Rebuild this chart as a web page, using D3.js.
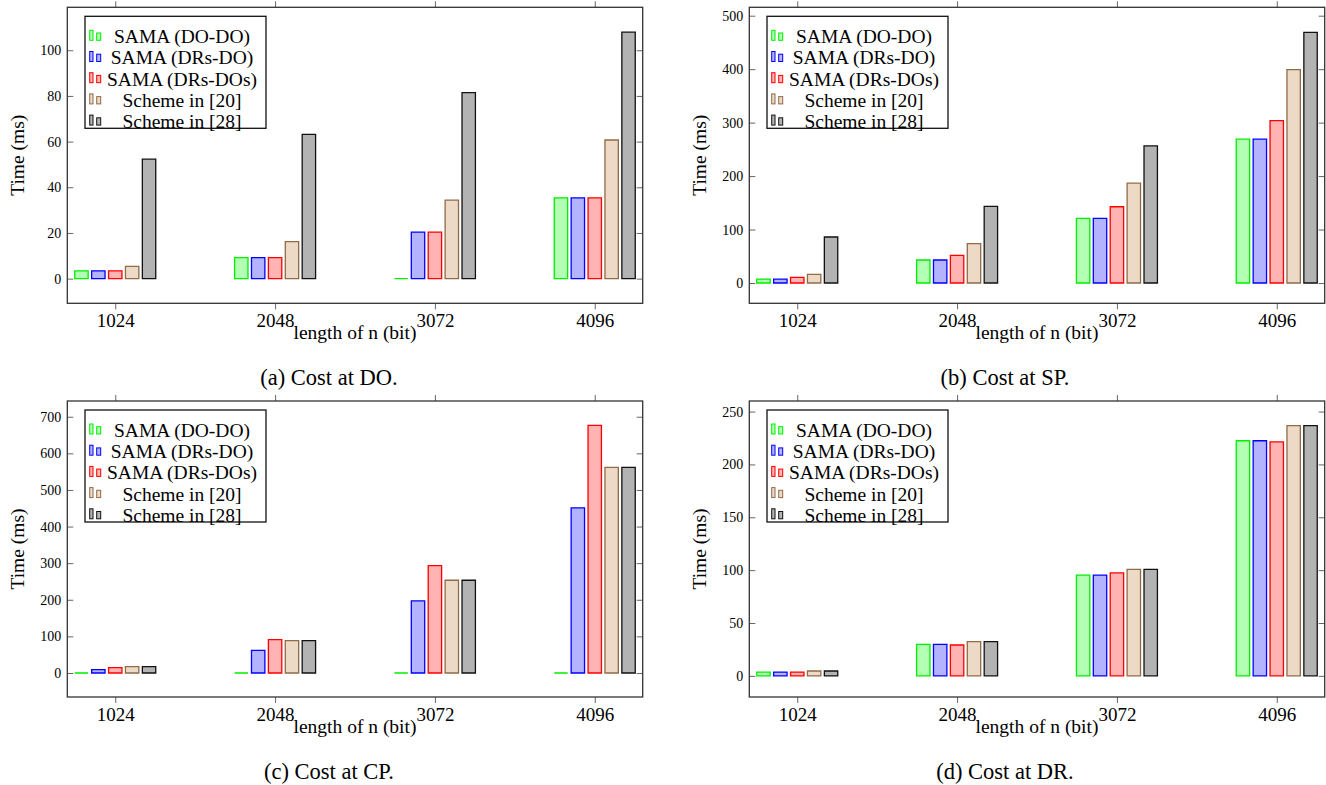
<!DOCTYPE html>
<html>
<head>
<meta charset="utf-8">
<script src="https://cdn.jsdelivr.net/npm/d3@7"></script>
<style>
  html, body { margin: 0; padding: 0; background: #fff; }
  svg { display: block; }
  text { font-family: "Liberation Serif", "Times New Roman", serif; fill: #000; }
</style>
</head>
<body>
<svg id="fig" width="1326" height="785"></svg>
<script>
// Key lengths on the x axis and the five compared schemes
const categories = ["1024", "2048", "3072", "4096"];
const seriesNames = ["SAMA (DO-DO)", "SAMA (DRs-DO)", "SAMA (DRs-DOs)", "Scheme in [20]", "Scheme in [28]"];

// (a) Cost at DO, ms
const doSamaDoDo   = [3.4, 9.2, 0, 35.4];
const doSamaDrsDo  = [3.4, 9.2, 20.4, 35.4];
const doSamaDrsDos = [3.4, 9.2, 20.4, 35.4];
const doScheme20   = [5.4, 16.2, 34.4, 60.7];
const doScheme28   = [52.3, 63.2, 81.4, 107.9];

// (b) Cost at SP, ms
const spSamaDoDo   = [7.2, 43, 120.8, 269];
const spSamaDrsDo  = [7.2, 43, 120.8, 269];
const spSamaDrsDos = [10.5, 51.7, 142.6, 303.9];
const spScheme20   = [16, 73.5, 186.8, 399];
const spScheme28   = [86, 143.2, 256.5, 468.9];

// (c) Cost at CP, ms
const cpSamaDoDo   = [0, 0, 0, 0];
const cpSamaDrsDo  = [9.1, 62, 196.9, 451.2];
const cpSamaDrsDos = [14.6, 91.2, 293.5, 676.4];
const cpScheme20   = [17.3, 88.4, 253.4, 561.5];
const cpScheme28   = [17.3, 88.4, 253.4, 561.5];

// (d) Cost at DR, ms
const drSamaDoDo   = [3.6, 29.8, 95.2, 222.4];
const drSamaDrsDo  = [3.6, 29.8, 95.2, 222.4];
const drSamaDrsDos = [3.6, 29.2, 97.4, 221.4];
const drScheme20   = [4.6, 32.3, 100.8, 236.8];
const drScheme28   = [4.6, 32.3, 100.8, 236.8];

// y tick values per panel
const ticksDO = [0, 20, 40, 60, 80, 100];
const ticksSP = [0, 100, 200, 300, 400, 500];
const ticksCP = [0, 100, 200, 300, 400, 500, 600, 700];
const ticksDR = [0, 50, 100, 150, 200, 250];

// fill / stroke per series
const fills   = ["#b3ffb3", "#b3b3ff", "#ffb3b3", "#ecdac6", "#b3b3b3"];
const strokes = ["#00ee00", "#0000ff", "#ff0000", "#8f6b48", "#111111"];

const panels = [
  { caption: "(a) Cost at DO.", series: [doSamaDoDo, doSamaDrsDo, doSamaDrsDos, doScheme20, doScheme28],
    ticks: ticksDO, domain: [-10.8, 118.8], col: 0, row: 0 },
  { caption: "(b) Cost at SP.", series: [spSamaDoDo, spSamaDrsDo, spSamaDrsDos, spScheme20, spScheme28],
    ticks: ticksSP, domain: [-38, 515.7], col: 1, row: 0 },
  { caption: "(c) Cost at CP.", series: [cpSamaDoDo, cpSamaDrsDo, cpSamaDrsDos, cpScheme20, cpScheme28],
    ticks: ticksCP, domain: [-65.6, 743], col: 0, row: 1 },
  { caption: "(d) Cost at DR.", series: [drSamaDoDo, drSamaDrsDo, drSamaDrsDos, drScheme20, drScheme28],
    ticks: ticksDR, domain: [-20, 260], col: 1, row: 1 }
];

const svg = d3.select("#fig");
const colX = [67.3, 749.3];
const rowY = [7.3, 401];
const plotW = 575.4, plotH = 296;
const barStep = 16.9, barW = 13.4;

// closed bar outline as a path so that zero-height bars still show as a line
function barPath(x, yTop, w, yBase) {
  const p = d3.path();
  p.moveTo(x, yBase);
  p.lineTo(x, yTop);
  p.lineTo(x + w, yTop);
  p.lineTo(x + w, yBase);
  p.closePath();
  return p.toString();
}

panels.forEach(p => {
  const x0 = colX[p.col], y0 = rowY[p.row];
  const g = svg.append("g").attr("transform", `translate(${x0},${y0})`);

  const x = d3.scalePoint().domain(categories).range([0, plotW]).padding(0.3);
  const y = d3.scaleLinear().domain(p.domain).range([plotH, 0]);

  // bars
  p.series.forEach((vals, si) => {
    g.append("g").selectAll("path")
      .data(vals.map((v, i) => ({ cat: categories[i], v })))
      .join("path")
      .attr("d", d => barPath(x(d.cat) + (si - 2) * barStep - barW / 2, y(d.v), barW, y(0)))
      .attr("fill", fills[si])
      .attr("stroke", strokes[si])
      .attr("stroke-width", 1.3);
  });

  // y axes: ticks pointing inward on both sides
  const yLeft = d3.axisLeft(y).tickValues(p.ticks).tickSize(-6).tickPadding(6);
  const yl = g.append("g").call(yLeft);
  yl.select(".domain").remove();
  yl.selectAll(".tick line").attr("stroke", "#666").attr("stroke-width", 1);
  yl.selectAll(".tick text").attr("font-size", 14).attr("fill", "#222")
    .style("font-family", "'Liberation Serif', serif");

  const yRight = d3.axisRight(y).tickValues(p.ticks).tickSize(-6).tickFormat("");
  const yr = g.append("g").attr("transform", `translate(${plotW},0)`).call(yRight);
  yr.select(".domain").remove();
  yr.selectAll(".tick line").attr("stroke", "#666").attr("stroke-width", 1);

  // x axes: ticks pointing outward at bottom and top
  const xBottom = d3.axisBottom(x).tickSize(6).tickPadding(4.5);
  const xb = g.append("g").attr("transform", `translate(0,${plotH})`).call(xBottom);
  xb.select(".domain").remove();
  xb.selectAll(".tick line").attr("stroke", "#666").attr("stroke-width", 1);
  xb.selectAll(".tick text").attr("font-size", 19).attr("fill", "#000")
    .style("font-family", "'Liberation Serif', serif");

  const xTop = d3.axisTop(x).tickSize(6).tickFormat("");
  const xt = g.append("g").call(xTop);
  xt.select(".domain").remove();
  xt.selectAll(".tick line").attr("stroke", "#666").attr("stroke-width", 1);

  // frame
  g.append("rect").attr("x", 0).attr("y", 0).attr("width", plotW).attr("height", plotH)
    .attr("fill", "none").attr("stroke", "#333").attr("stroke-width", 1.3);

  // axis titles
  g.append("text").attr("x", plotW / 2).attr("y", plotH + 36)
    .attr("text-anchor", "middle").attr("font-size", 19.5).text("length of n (bit)");
  g.append("text").attr("transform", `translate(-50,${plotH / 2}) rotate(-90)`)
    .attr("text-anchor", "middle").attr("dy", "0.35em").attr("font-size", 19.5).text("Time (ms)");

  // caption
  const capX = p.col === 0 ? 329 - x0 : 1005 - x0;
  g.append("text").attr("x", capX).attr("y", plotH + 82)
    .attr("text-anchor", "middle").attr("font-size", 22.5).text(p.caption);

  // legend
  const lg = g.append("g").attr("transform", "translate(17.7,9)");
  lg.append("rect").attr("width", 181).attr("height", 112)
    .attr("fill", "#fff").attr("stroke", "#111").attr("stroke-width", 1.3);
  seriesNames.forEach((name, si) => {
    const base = 27 + si * 21.2;
    const row = lg.append("g");
    row.append("rect").attr("x", 4.7).attr("y", base - 13).attr("width", 3.3).attr("height", 10)
      .attr("fill", fills[si]).attr("stroke", strokes[si]).attr("stroke-width", 1);
    row.append("rect").attr("x", 11.7).attr("y", base - 10.3).attr("width", 4).attr("height", 7.3)
      .attr("fill", fills[si]).attr("stroke", strokes[si]).attr("stroke-width", 1);
    row.append("text").attr("x", 97).attr("y", base).attr("text-anchor", "middle")
      .attr("font-size", 19.5).text(name);
  });
});
</script>
</body>
</html>
